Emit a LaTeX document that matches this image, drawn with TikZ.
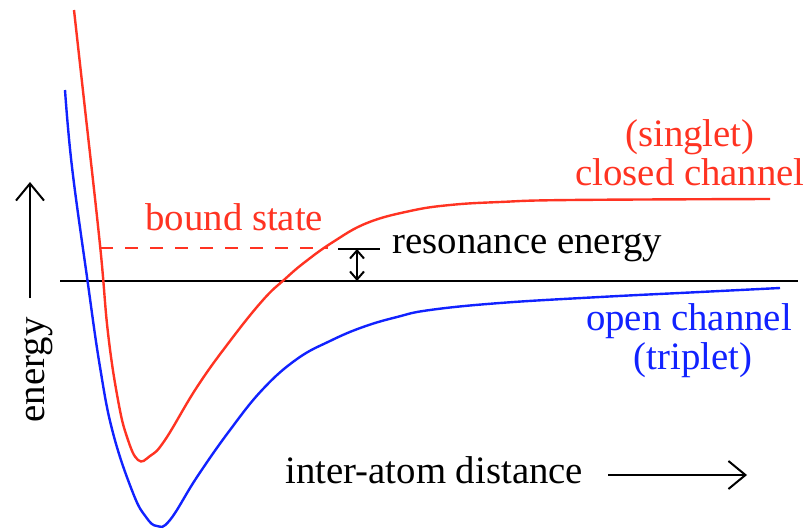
\documentclass[tikz,border=0pt]{standalone}
\usepackage{fontspec}
\setmainfont{Liberation Serif}
\usepackage{xcolor}
\usepackage{tikz}
\usetikzlibrary{arrows.meta}
\definecolor{chred}{RGB}{255,51,34}
\definecolor{chblue}{RGB}{17,34,255}

\begin{document}
\begin{tikzpicture}[x=0.5pt,y=-0.5pt,
    lbl/.style={inner sep=0pt,font=\fontsize{19.4}{23}\selectfont},
    curve/.style={line width=1.2pt},
    bigarrow/.style={line width=1pt,-{Straight Barb[length=8.5pt,width=14pt]}},
    resarrow/.style={line width=1pt,{Straight Barb[length=4pt,width=7pt]}-{Straight Barb[length=4pt,width=7pt]}}]
        \useasboundingbox (0,0) rectangle (812,530);
        \draw[line width=1.2pt] (60,281) -- (798,281);
        \draw[curve,chblue] plot[smooth,tension=0.7] coordinates {(65,90) (72,167) (87,277) (100,367) (113,433) (133,493) (146,517) (157,526) (170,520) (197,477) (230,430) (263,389) (297,359) (330,341) (363,327) (397,317) (430,310) (500,303) (600,297) (700,292) (780,288)};
        \draw[curve,chred] plot[smooth,tension=0.7] coordinates {(74,10) (84,100) (100,245) (108,333) (118,400) (127,437) (138,460) (150,456) (165,440) (197,387) (230,341) (263,300) (285,279) (305,262) (333,242) (367,223) (410,211) (450,205) (500,202) (570,200) (770,199)};
        \draw[curve,chred,dash pattern=on 6.5pt off 6pt] (100,248) -- (328,248);
        \node[lbl,chred,anchor=base west] (bound) at (145,230) {bound state};
        \coordinate (resTop) at (357,249);
        \coordinate (resBot) at (357,281);
        \draw[line width=1.2pt] (338,249) -- (380,249);
        \draw[resarrow] (resTop) -- (resBot);
        \node[lbl,anchor=base west] (reso) at (392,253) {resonance energy};
        \node[lbl,chred,anchor=base] (singlet) at (690,146) {(singlet)};
        \node[lbl,chred,anchor=base] (closed) at (690,185) {closed channel};
        \node[lbl,chblue,anchor=base,text depth=0pt] (open) at (689,330) {open channel};
        \node[lbl,chblue,anchor=base] (triplet) at (693,369) {(triplet)};
        \node[lbl,rotate=90,anchor=base] (energy) at (44,370) {energy};
        \coordinate (eBot) at (30,298);
        \coordinate (eTop) at (30,182);
        \draw[bigarrow] (eBot) -- (eTop);
        \node[lbl,anchor=base west] (dist) at (285,483) {inter-atom distance};
        \coordinate (dStart) at (608,475);
        \coordinate (dEnd) at (747,475);
        \draw[bigarrow] (dStart) -- (dEnd);
    \end{tikzpicture}
\end{document}
